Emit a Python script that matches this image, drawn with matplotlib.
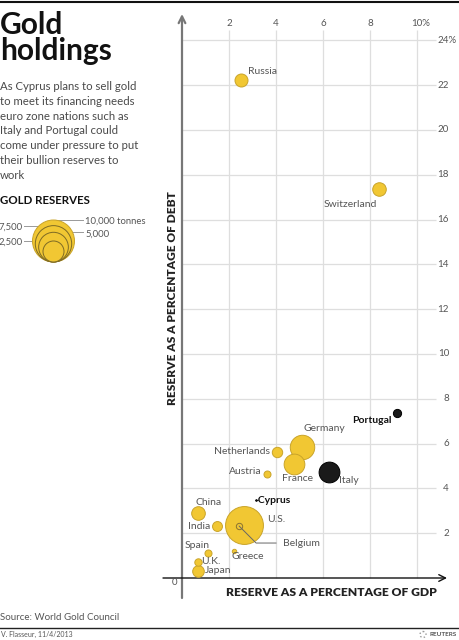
import numpy as np
import matplotlib
matplotlib.use('Agg')
import matplotlib.pyplot as plt
from matplotlib.patches import Circle

plt.rcParams['font.family'] = ['Lato', 'DejaVu Sans']

# Dữ liệu
countries = ['U.S.', 'Germany', 'Italy', 'France', 'China', 'Switzerland', 'Russia',
             'Japan', 'Netherlands', 'India', 'Portugal', 'U.K.', 'Spain', 'Austria',
             'Belgium', 'Greece', 'Cyprus']
pct_gdp = [2.64, 5.11, 6.26, 4.77, 0.68, 8.38, 2.51, 0.68, 4.04, 1.49, 9.15, 0.68,
           1.11, 3.62, 2.43, 2.21, 3.15]
pct_debt = [2.37, 5.85, 4.73, 5.09, 2.90, 17.37, 22.23, 0.31, 5.63, 2.32, 7.37, 0.71,
            1.12, 4.64, 2.32, 1.21, 3.48]
tonnes = [8133.5, 3391.3, 2451.8, 2435.4, 1054.1, 1040.1, 958.0, 765.2, 612.5, 557.7,
          382.5, 310.3, 281.6, 280.0, 227.4, 112.0, 13.9]
highlight = ['Italy', 'Portugal', 'Cyprus']

legend_tonnes = [10000, 7500, 5000, 2500]
legend_labels = ['10,000 tonnes', '7,500', '5,000', '2,500']

x_ticks = [2, 4, 6, 8, 10]
y_ticks = [2, 4, 6, 8, 10, 12, 14, 16, 18, 20, 22, 24]

intro = ['As Cyprus plans to sell gold', 'to meet its financing needs',
         'euro zone nations such as', 'Italy and Portugal could',
         'come under pressure to put', 'their bullion reserves to', 'work']

# vị trí nhãn (pixel offset, căn lề)
label_pos = {
    'Russia': (7, 9, 'left'), 'Switzerland': (-29, -16, 'center'),
    'Portugal': (-5, -8, 'right'), 'Germany': (22, 18, 'center'),
    'Netherlands': (-7, 0, 'right'), 'France': (3, -15, 'center'),
    'Italy': (10, -8, 'left'), 'Austria': (-5, 3, 'right'),
    'Cyprus': (-2, 0, 'left'), 'China': (11, 11, 'center'),
    'India': (-7, 0, 'right'), 'U.S.': (23, 5, 'left'),
    'Spain': (-11, 7, 'center'), 'Greece': (14, -6, 'center'),
    'U.K.': (3, 1, 'left'), 'Japan': (7, 1, 'left'),
}

W, H = 459, 640
K = 0.21  # bán kính pixel = K*sqrt(tấn)
YELLOW = '#F1C733'
EDGE = '#C9A42A'
GREY = '#555555'

fig = plt.figure(figsize=(W / 100, H / 100), dpi=100)

# Trục chính
x0px, y0px, sx, sy = 182, 578, 23.5, 22.4
left, right, bottom, top = 163, 450, 600, 12
ax = fig.add_axes([left / W, 1 - bottom / H, (right - left) / W, (bottom - top) / H])
ax.set_xlim((left - x0px) / sx, (right - x0px) / sx)
ax.set_ylim((y0px - bottom) / sy, (y0px - top) / sy)
ax.axis('off')

ax.vlines(x_ticks, 0, (y0px - 30) / sy, color='#dedede', lw=0.9, zorder=1)
ax.hlines(y_ticks, 0, (436 - x0px) / sx, color='#dedede', lw=0.9, zorder=1)

ax.annotate('', xy=(0, (y0px - 14) / sy), xytext=(0, (y0px - 598) / sy),
            arrowprops=dict(arrowstyle='->', color='#777777', lw=1.6,
                            shrinkA=0, shrinkB=0, mutation_scale=12), zorder=2)
ax.annotate('', xy=((447 - x0px) / sx, 0), xytext=((163 - x0px) / sx, 0),
            arrowprops=dict(arrowstyle='->', color='#111111', lw=1.0,
                            shrinkA=0, shrinkB=0, mutation_scale=12), zorder=2)

for t in x_ticks:
    ax.text(t + (0.17 if t == 10 else 0), (y0px - 23) / sy, f'{t}%' if t == 10 else str(t),
            ha='center', va='center', fontsize=7, color=GREY)
for t in y_ticks:
    if t == 24:
        ax.text((457 - x0px) / sx, t, '24%', ha='right', va='center', fontsize=7, color=GREY)
    else:
        ax.text((449 - x0px) / sx, t, str(t), ha='right', va='center', fontsize=7, color=GREY)
ax.text(-0.3, -0.22, '0', ha='center', va='center', fontsize=7, color=GREY)

order = np.argsort(tonnes)[::-1]
for i in order:
    c = countries[i]
    d_pt = 2 * K * np.sqrt(tonnes[i]) * 0.72
    if c in highlight:
        fc, ec = '#1a1a1a', '#000000'
    elif c == 'Belgium':
        fc, ec = YELLOW, '#8a7330'
    else:
        fc, ec = YELLOW, EDGE
    ax.scatter(pct_gdp[i], pct_debt[i], s=d_pt ** 2, color=fc, edgecolor=ec,
               linewidth=0.7, zorder=3)

for i, c in enumerate(countries):
    bold = c in ('Portugal', 'Cyprus')
    txt = '-Cyprus' if c == 'Cyprus' else c
    if c == 'Belgium':
        ax.annotate(c, xy=(pct_gdp[i], pct_debt[i]), xytext=(44, -17),
                    textcoords='offset pixels', ha='left', va='center', fontsize=7.5,
                    color=GREY, zorder=4,
                    arrowprops=dict(arrowstyle='-', color='#666666', lw=0.7,
                                    connectionstyle='angle,angleA=0,angleB=-45',
                                    shrinkA=3, shrinkB=0))
        continue
    dx, dy, ha = label_pos[c]
    ax.annotate(txt, xy=(pct_gdp[i], pct_debt[i]), xytext=(dx, dy),
                textcoords='offset pixels', ha=ha, va='center', fontsize=7.5,
                color='#111111' if bold else GREY,
                fontweight='bold' if bold else 'normal', zorder=4)

# Lớp phủ cho văn bản
ov = fig.add_axes([0, 0, 1, 1], zorder=-1)
ov.set_xlim(0, W)
ov.set_ylim(H, 0)
ov.axis('off')

ov.plot([0, W], [1.5, 1.5], color='#111111', lw=1.5)
ov.text(0, 60, 'Gold\nholdings', fontsize=21.5, fontweight='bold', color='#111111',
        va='baseline', linespacing=0.9)
for k, line in enumerate(intro):
    ov.text(0, 90 + k * 14.8, line, fontsize=8.2, color='#4a4a4a', va='baseline')
ov.text(0, 204, 'GOLD RESERVES', fontsize=8.3, fontweight='bold', color='#111111',
        va='baseline')

# chú giải kích thước
cx, cb = 53.5, 262
for val, lab in zip(legend_tonnes, legend_labels):
    r = K * np.sqrt(val)
    ytop = cb - 2 * r
    if val in (10000, 5000):
        ov.plot([cx, 83], [ytop, ytop], color='#999999', lw=0.7, zorder=1)
        ov.text(85, ytop + 1.5, lab, fontsize=6.8, color=GREY, va='center', ha='left')
    else:
        ov.plot([24, cx], [ytop, ytop], color='#999999', lw=0.7, zorder=1)
        ov.text(23, ytop + 1.5, lab, fontsize=6.8, color=GREY, va='center', ha='right')
for val in legend_tonnes:
    r = K * np.sqrt(val)
    ec = EDGE if val == 10000 else '#7d6a25'
    ov.add_patch(Circle((cx, cb - r), r, facecolor=YELLOW, edgecolor=ec, lw=0.7, zorder=2))

ov.text(172, 298, 'RESERVE AS A PERCENTAGE OF DEBT', rotation=90, fontsize=8.6,
        fontweight='heavy', color='#222222', ha='center', va='center')
ov.text(331.5, 592, 'RESERVE AS A PERCENTAGE OF GDP', fontsize=8.7,
        fontweight='heavy', color='#222222', ha='center', va='center')

ov.text(0, 618, 'Source: World Gold Council', fontsize=7, color=GREY, va='center')
ov.plot([0, W], [628, 628], color='#222222', lw=1.0)
ov.text(1, 634, 'V. Flasseur, 11/4/2013', fontsize=5, color=GREY, va='center')
ov.add_patch(Circle((423, 634.5), 3, fill=False, ls=':', ec='#999999', lw=1.0))
ov.text(457, 634.5, 'REUTERS', fontsize=4.6, color=GREY, va='center', ha='right',
        fontweight='bold')

fig.savefig('out.png', dpi=100)
